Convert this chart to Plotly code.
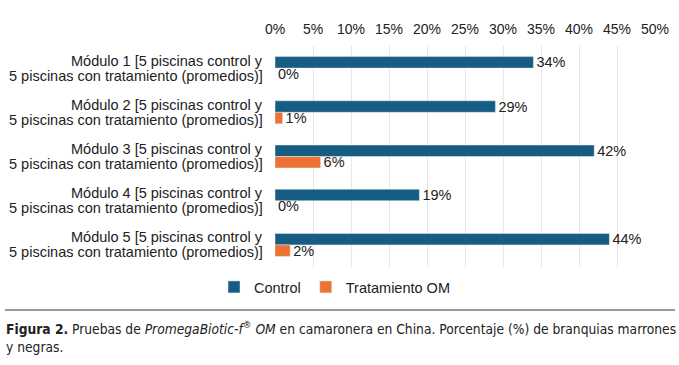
import plotly.graph_objects as go

categories = ["Módulo 1", "Módulo 2", "Módulo 3", "Módulo 4", "Módulo 5"]
label_line1 = [f"{c} [5 piscinas control y" for c in categories]
label_line2 = "5 piscinas con tratamiento (promedios)]"
control = [34, 29, 42, 19, 44]
tratamiento = [0, 1, 6, 0, 2]
tick_vals = [0, 5, 10, 15, 20, 25, 30, 35, 40, 45, 50]
tick_text = [f"{v}%" for v in tick_vals]

font_main = "Liberation Sans, Arial, sans-serif"
FS = 14.5

fig = go.Figure()
fig.add_trace(go.Bar(
    y=categories, x=control, orientation="h", name="Control",
    marker=dict(color="#175c82"),
    text=[f"{v}%" for v in control], textposition="outside", constraintext="none",
    textfont=dict(size=FS, color="#222"), cliponaxis=False,
))
fig.add_trace(go.Bar(
    y=categories, x=tratamiento, orientation="h", name="Tratamiento OM",
    marker=dict(color="#ed7234"),
    text=[f"{v}%" for v in tratamiento], textposition="outside", constraintext="none",
    textfont=dict(size=FS, color="#222"), cliponaxis=False,
))

fig.update_layout(
    width=679, height=365,
    margin=dict(l=275, r=24, t=46, b=98, autoexpand=False),
    paper_bgcolor="white", plot_bgcolor="white",
    font=dict(family=font_main, size=FS, color="#222"),
    barmode="group", bargap=0.48, bargroupgap=0,
    showlegend=True,
    legend=dict(orientation="h", x=(214-275)/380, xanchor="left", y=-20/221, yanchor="middle",
                font=dict(size=FS), traceorder="normal", itemwidth=30),
    xaxis=dict(side="top", range=[0, 50], tickvals=tick_vals, ticktext=tick_text,
               showgrid=True, gridcolor="#e6e6e6", gridwidth=1, zeroline=False,
               showline=False, ticks="", tickfont=dict(size=14), automargin=False,
               ticklabelstandoff=8),
    yaxis=dict(autorange="reversed", showgrid=False, showline=False, ticks="",
               showticklabels=False, automargin=False),
)

for cat, l1 in zip(categories, label_line1):
    for txt, shift in ((l1, 7.5), (label_line2, -7.5)):
        fig.add_annotation(xref="paper", yref="y", x=0, y=cat, xshift=-10, yshift=shift,
                           xanchor="right", yanchor="middle", showarrow=False,
                           text=txt, font=dict(size=FS, color="#222"))

fig.add_shape(type="line", xref="paper", yref="paper",
              x0=-270/380, x1=(675-275)/380, y0=-43/221, y1=-43/221,
              line=dict(color="#333", width=1.2))

cap_font = "DejaVu Sans Condensed, Liberation Sans Narrow, Arial Narrow, sans-serif"
fig.add_annotation(
    xref="paper", yref="paper", x=-271/380, y=-50/221, xanchor="left", yanchor="top",
    align="left", showarrow=False,
    text=("<b>Figura 2.</b> Pruebas de <i>PromegaBiotic-f<sup>®</sup> OM</i> en camaronera en China. "
          "Porcentaje (%) de branquias marrones<br>y negras."),
    font=dict(family=cap_font, size=13.7, color="#222"),
)

fig.write_html("out.html", config={"displayModeBar": False},
               post_script="document.body.style.margin='0';document.body.style.padding='0';")
